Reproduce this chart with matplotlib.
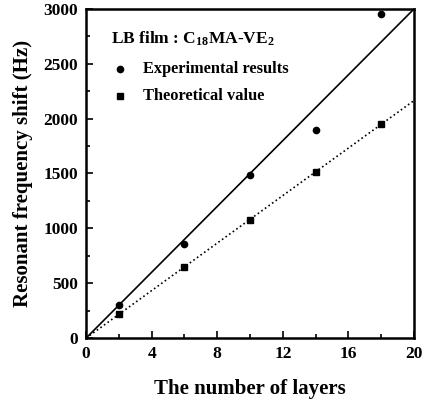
import matplotlib

matplotlib.use("Agg")
import matplotlib.pyplot as plt
import numpy as np

layers = [2, 6, 10, 14, 18]
experimental = [300, 860, 1490, 1900, 2950]
theoretical = [220, 650, 1080, 1510, 1950]
fit_x = [0, 20]
fit_exp = [0, 3000]
fit_theo = [0, 2165]

plt.rcParams["font.family"] = ["Liberation Serif", "DejaVu Serif"]
plt.rcParams["font.weight"] = "bold"
plt.rcParams["axes.labelweight"] = "bold"
plt.rcParams["mathtext.fontset"] = "custom"
plt.rcParams["mathtext.rm"] = "Liberation Serif:bold"
plt.rcParams["mathtext.it"] = "Liberation Serif:bold"
plt.rcParams["mathtext.bf"] = "Liberation Serif:bold"

fig = plt.figure(figsize=(4.26, 4.03), dpi=100)
ax = fig.add_axes([0.202, 0.161, 0.770, 0.817])

ax.plot(fit_x, fit_exp, "-", color="black", lw=1.2)
ax.plot(fit_x, fit_theo, ":", color="black", lw=1.2)
ax.plot(layers, experimental, "o", color="black", ms=4.5)
ax.plot(layers, theoretical, "s", color="black", ms=4)

ax.set_xlim(0, 20)
ax.set_ylim(0, 3000)
ax.set_xticks(np.arange(0, 21, 4))
ax.set_xticks(np.arange(0, 21, 2), minor=True)
ax.set_yticks(np.arange(0, 3001, 500))
ax.set_yticks(np.arange(0, 3001, 250), minor=True)
ax.tick_params(which="both", direction="in", width=1.2)
ax.tick_params(which="major", length=5, labelsize=12.5, pad=6)
ax.tick_params(which="minor", length=3)
for s in ax.spines.values():
    s.set_linewidth(1.8)

ax.set_xlabel("The number of layers", fontsize=15, fontweight="bold", labelpad=12)
ax.set_ylabel("Resonant frequency shift (Hz)", fontsize=15, fontweight="bold", labelpad=7)

ax.text(1.5, 2680, r"LB film : C$_{18}$MA-VE$_2$", fontsize=12.5)
ax.plot([2.05], [2450], "o", color="black", ms=4.5)
ax.text(3.5, 2450, "Experimental results", fontsize=11.8, va="center")
ax.plot([2.05], [2205], "s", color="black", ms=4)
ax.text(3.5, 2205, "Theoretical value", fontsize=11.8, va="center")

fig.savefig("out.png", dpi=100)
